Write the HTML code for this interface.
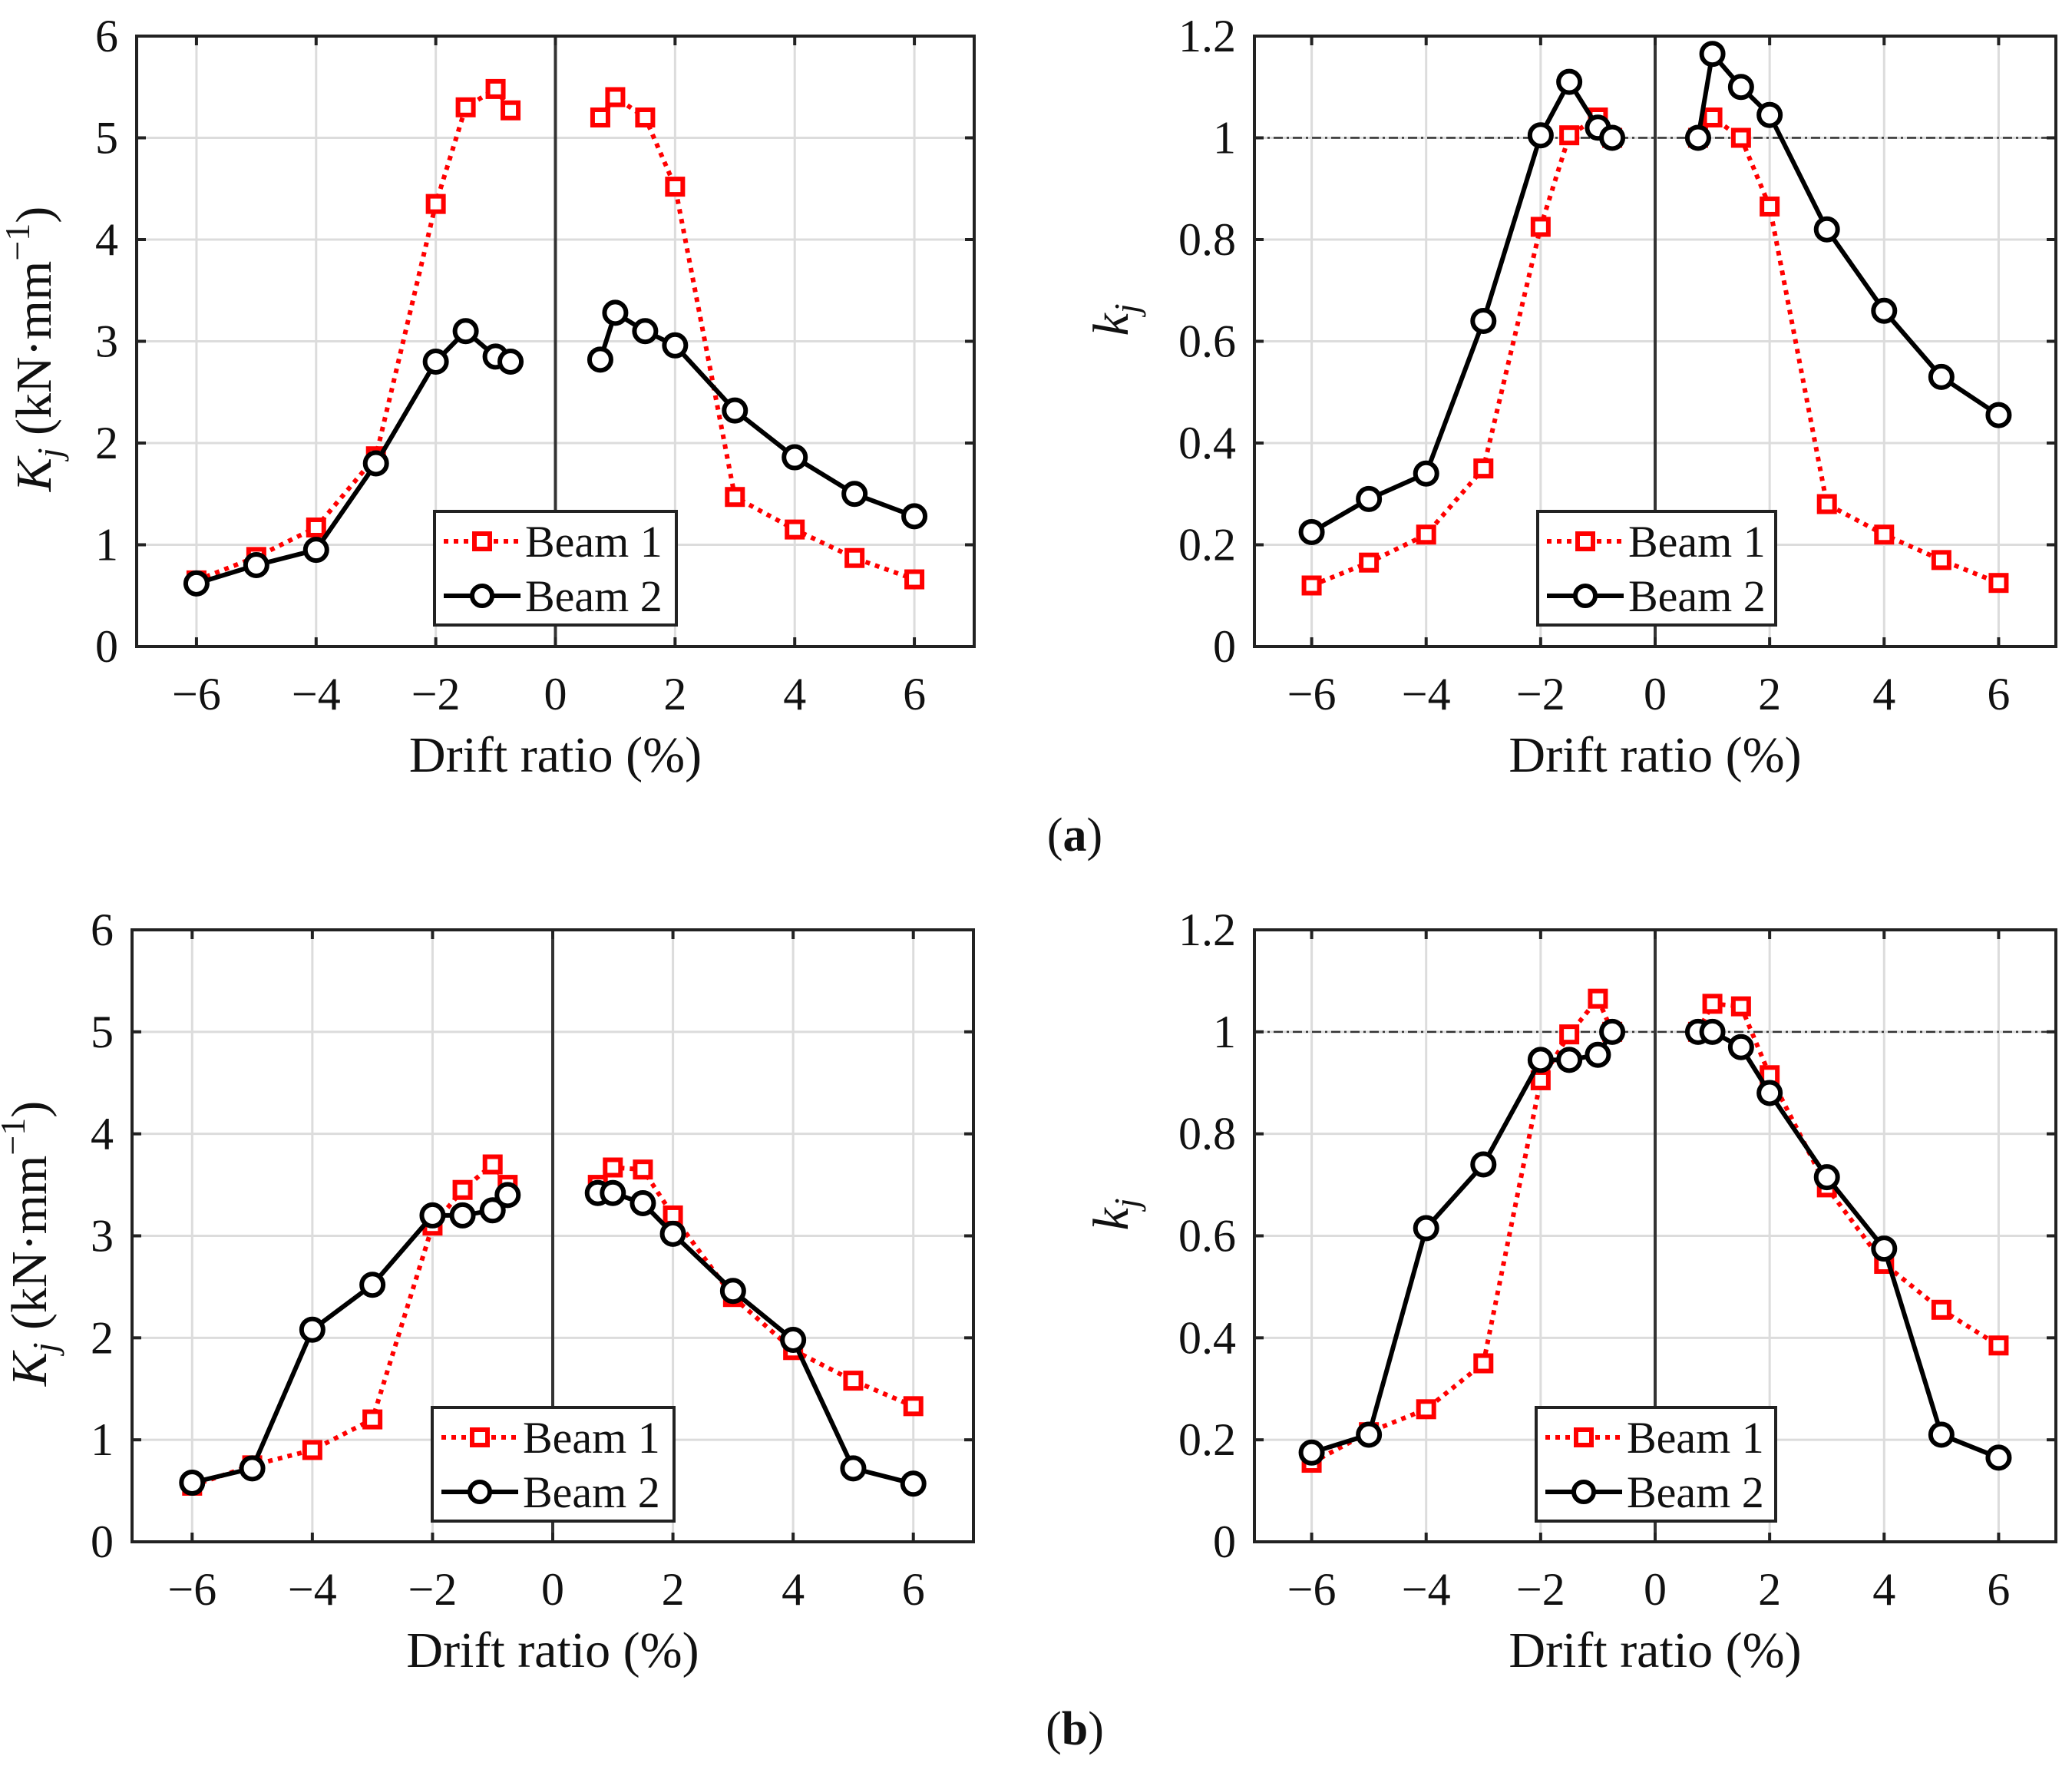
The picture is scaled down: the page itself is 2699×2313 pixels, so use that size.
<!DOCTYPE html>
<html><head><meta charset="utf-8"><style>
html,body{margin:0;padding:0;background:#fff;}
svg{display:block;}
svg text{font-family:"Liberation Serif","Times New Roman",serif !important;fill:#111;}
</style></head><body>
<svg id="fig" width="2699" height="2313" viewBox="0 0 2699 2313" xmlns="http://www.w3.org/2000/svg" font-family="Liberation Serif, serif">
<text x="1400" y="1108" font-size="62" text-anchor="middle" font-family="Liberation Serif, serif">(<tspan font-weight="bold">a</tspan>)</text>
<text x="1400" y="2272" font-size="62" text-anchor="middle" font-family="Liberation Serif, serif">(<tspan font-weight="bold">b</tspan>)</text>
</svg>
<script>
const xNeg = [-6,-5,-4,-3,-2,-1.5,-1,-0.75];
const xPos = [0.75,1,1.5,2,3,4,5,6];
const xTicks = [-6,-4,-2,0,2,4,6];
const xTickLabels = ['\u22126','\u22124','\u22122','0','2','4','6'];
const yTicksK = [0,1,2,3,4,5,6];
const yTickLabelsK = ['0','1','2','3','4','5','6'];
const yTicksk = [0,0.2,0.4,0.6,0.8,1,1.2];
const yTickLabelsk = ['0','0.2','0.4','0.6','0.8','1','1.2'];

const aK_b1_neg = [0.65,0.88,1.17,1.87,4.35,5.3,5.48,5.27];
const aK_b1_pos = [5.2,5.4,5.2,4.52,1.47,1.15,0.87,0.66];
const aK_b2_neg = [0.62,0.8,0.95,1.8,2.8,3.1,2.85,2.8];
const aK_b2_pos = [2.82,3.28,3.1,2.96,2.32,1.86,1.5,1.28];

const ak_b1_neg = [0.12,0.165,0.22,0.35,0.825,1.005,1.04,1.0];
const ak_b1_pos = [1.0,1.04,1.0,0.865,0.28,0.22,0.17,0.125];
const ak_b2_neg = [0.225,0.29,0.34,0.64,1.005,1.11,1.02,1.0];
const ak_b2_pos = [1.0,1.165,1.1,1.045,0.82,0.66,0.53,0.455];

const bK_b1_neg = [0.55,0.75,0.9,1.2,3.1,3.45,3.7,3.5];
const bK_b1_pos = [3.5,3.67,3.65,3.2,2.4,1.88,1.58,1.33];
const bK_b2_neg = [0.58,0.72,2.08,2.52,3.2,3.2,3.25,3.4];
const bK_b2_pos = [3.42,3.42,3.32,3.02,2.46,1.98,0.72,0.57];

const bk_b1_neg = [0.155,0.215,0.26,0.35,0.905,0.995,1.065,1.0];
const bk_b1_pos = [1.0,1.055,1.05,0.915,0.695,0.545,0.455,0.385];
const bk_b2_neg = [0.175,0.21,0.615,0.74,0.945,0.945,0.955,1.0];
const bk_b2_pos = [1.0,1.0,0.97,0.88,0.715,0.575,0.21,0.165];

const NS='http://www.w3.org/2000/svg';
const svg=document.getElementById('fig');
const FF='Liberation Serif, Times New Roman, serif';
function mk(tag,attrs,parent){const e=document.createElementNS(NS,tag);for(const k in attrs)e.setAttribute(k,attrs[k]);if(tag==='text')e.setAttribute('font-family',FF);(parent||svg).appendChild(e);return e;}

function panel(id,L,R,T,B,ymax,yT,yTL,b1n,b1p,b2n,b2p,isK,leg){
  const g=mk('g',{});
  
  
  const sx=v=>L+(v+7)/14*(R-L);
  const sy=v=>B-v/ymax*(B-T);
  xTicks.forEach(t=>{const l=mk('line',{x1:sx(t),x2:sx(t),y1:T,y2:B,stroke:'#dcdcdc','stroke-width':3},g);
    });
  yT.forEach(t=>{const l=mk('line',{x1:L,x2:R,y1:sy(t),y2:sy(t),stroke:'#dcdcdc','stroke-width':3},g);
    });
  if(!isK){const l=mk('line',{x1:L,x2:R,y1:sy(1),y2:sy(1),stroke:'#333','stroke-width':2.5,'stroke-dasharray':'12 5 3 5'},g);
    }
  const z=mk('line',{x1:sx(0),x2:sx(0),y1:T,y2:B,stroke:'#333','stroke-width':4},g);
  
  xTicks.forEach(t=>{mk('line',{x1:sx(t),x2:sx(t),y1:B,y2:B-12,stroke:'#222','stroke-width':4},g);mk('line',{x1:sx(t),x2:sx(t),y1:T,y2:T+12,stroke:'#222','stroke-width':4},g);});
  yT.forEach(t=>{mk('line',{x1:L,x2:L+12,y1:sy(t),y2:sy(t),stroke:'#222','stroke-width':4},g);mk('line',{x1:R,x2:R-12,y1:sy(t),y2:sy(t),stroke:'#222','stroke-width':4},g);});
  const fr=mk('rect',{x:L,y:T,width:R-L,height:B-T,fill:'none',stroke:'#222','stroke-width':4},g);
  
  xTicks.forEach((t,i)=>{const tx=mk('text',{x:sx(t),y:B+82,'font-size':60,'text-anchor':'middle'},g);tx.textContent=xTickLabels[i];
    });
  yT.forEach((t,i)=>{const tx=mk('text',{x:L-24,y:sy(t)+20,'font-size':60,'text-anchor':'end'},g);tx.textContent=yTL[i];
    });
  const xl=mk('text',{x:(L+R)/2,y:B+163,'font-size':66,'text-anchor':'middle'},g);xl.textContent='Drift ratio (%)';
  
  const cy=(T+B)/2;
  if(isK){
    const yl=mk('text',{x:0,y:0,'font-size':66,'text-anchor':'middle',transform:`translate(${L-112},${cy+10}) rotate(-90)`},g);
    yl.innerHTML='<tspan font-style="italic">K</tspan><tspan font-style="italic" font-size="46" dy="14">j</tspan><tspan dy="-14">  (kN·mm</tspan><tspan font-size="46" dy="-28">−1</tspan><tspan dy="28">)</tspan>';
    
  } else {
    const yl=mk('text',{x:0,y:0,'font-size':66,'text-anchor':'middle',transform:`translate(${L-165},${cy-28}) rotate(-90)`},g);
    yl.innerHTML='<tspan font-style="italic">k</tspan><tspan font-style="italic" font-size="46" dy="14">j</tspan>';
    
  }
  function series(xs,ys,red,name){
    const pts=xs.map((x,i)=>sx(x)+','+sy(ys[i])).join(' ');
    const pl=mk('polyline',{points:pts,fill:'none',stroke:red?'#ff0000':'#000','stroke-width':6,'stroke-dasharray':red?'6 7':'none'},g);
    
    xs.forEach((x,i)=>{let m;
      if(red){m=mk('rect',{x:sx(x)-10,y:sy(ys[i])-10,width:20,height:20,fill:'#fff',stroke:'#ff0000','stroke-width':6},g);}
      else{m=mk('circle',{cx:sx(x),cy:sy(ys[i]),r:14,fill:'#fff',stroke:'#000','stroke-width':6},g);}
      });
  }
  series(xNeg,b1n,true,'beam-1');series(xPos,b1p,true,'beam-1');
  series(xNeg,b2n,false,'beam-2');series(xPos,b2p,false,'beam-2');
  const [lx,ly,lw,lh]=leg;
  const lg=mk('g',{},g);
  
  mk('rect',{x:lx,y:ly,width:lw,height:lh,fill:'#fff',stroke:'#222','stroke-width':4},lg);
  const r1=ly+39,r2=ly+110;
  mk('line',{x1:lx+12,x2:lx+112,y1:r1,y2:r1,stroke:'#ff0000','stroke-width':6,'stroke-dasharray':'6 7'},lg);
  mk('rect',{x:lx+52,y:r1-10,width:20,height:20,fill:'#fff',stroke:'#ff0000','stroke-width':6},lg);
  mk('line',{x1:lx+12,x2:lx+112,y1:r2,y2:r2,stroke:'#000','stroke-width':6},lg);
  mk('circle',{cx:lx+62,cy:r2,r:13,fill:'#fff',stroke:'#000','stroke-width':6},lg);
  const t1=mk('text',{x:lx+118,y:r1+20,'font-size':58},lg);t1.textContent='Beam 1';
  
  const t2=mk('text',{x:lx+118,y:r2+20,'font-size':58},lg);t2.textContent='Beam 2';
  
}
panel('chart-a-stiffness',178,1269,47,842,6,yTicksK,yTickLabelsK,aK_b1_neg,aK_b1_pos,aK_b2_neg,aK_b2_pos,true,[566,666,315,148]);
panel('chart-a-normalized',1634,2678,47,842,1.2,yTicksk,yTickLabelsk,ak_b1_neg,ak_b1_pos,ak_b2_neg,ak_b2_pos,false,[2003,666,310,148]);
panel('chart-b-stiffness',172,1268,1211,2008,6,yTicksK,yTickLabelsK,bK_b1_neg,bK_b1_pos,bK_b2_neg,bK_b2_pos,true,[563,1833,315,148]);
panel('chart-b-normalized',1634,2678,1211,2008,1.2,yTicksk,yTickLabelsk,bk_b1_neg,bk_b1_pos,bk_b2_neg,bk_b2_pos,false,[2001,1833,312,148]);
</script>
</body></html>
